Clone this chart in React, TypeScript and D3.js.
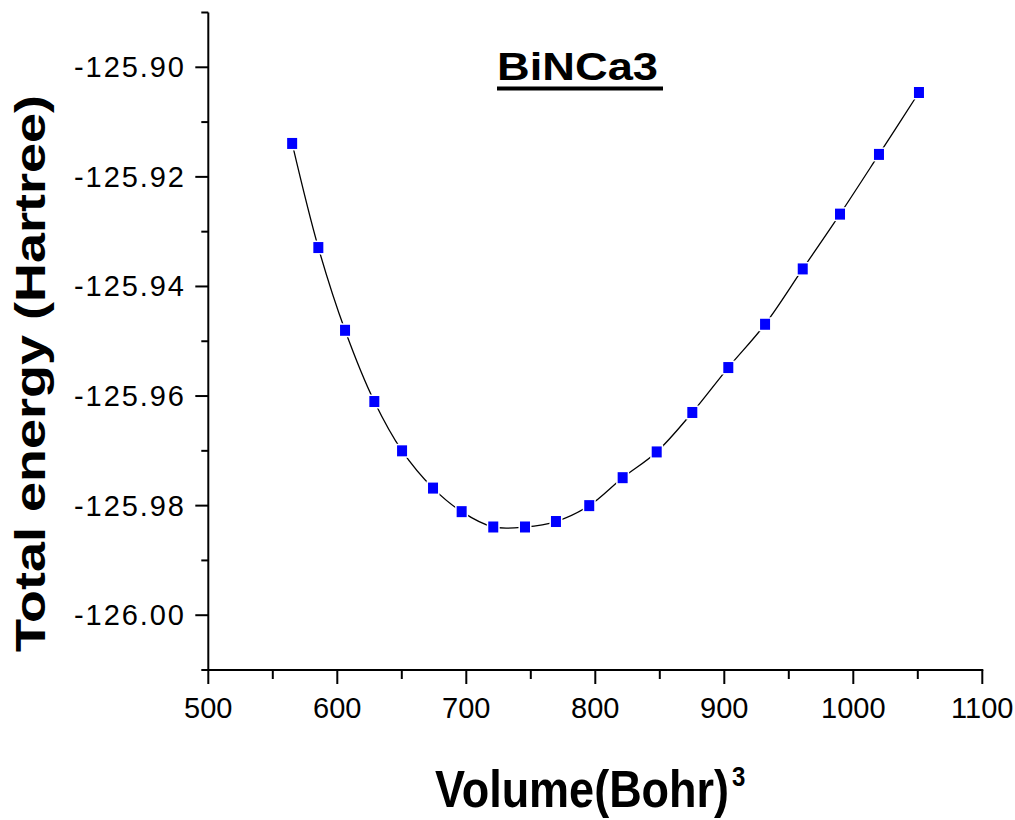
import React from 'react';
import * as d3 from 'd3';

// Volume (Bohr^3) vs total energy (Hartree)
const volumes = [565, 585.3, 606, 628.7, 650.2, 674.2, 696.4, 720.9, 745.5, 769.5,
  795.3, 821.2, 847.6, 875.2, 903.1, 931.6, 960.8, 989.7, 1019.9, 1050.9];
const energies = [-125.9139, -125.9329, -125.948, -125.961, -125.97, -125.9768, -125.9811,
  -125.9839, -125.9839, -125.9829, -125.98, -125.9749, -125.9702, -125.963, -125.9548,
  -125.9469, -125.9368, -125.9268, -125.9159, -125.9046];

const xTicks = [500, 600, 700, 800, 900, 1000, 1100];
const xMinorTicks = [550, 650, 750, 850, 950, 1050];
const yTicks = [-125.9, -125.92, -125.94, -125.96, -125.98, -126.0];
const yMinorTicks = [-125.89, -125.91, -125.93, -125.95, -125.97, -125.99, -126.01];

const title = 'BiNCa3';
const xLabel = 'Volume(Bohr)';
const xLabelSup = '3';
const yLabel = 'Total energy (Hartree)';

const FONT = '"Liberation Sans", Arial, sans-serif';

export default function App() {
  const width = 1015;
  const height = 820;

  const x = d3.scaleLinear().domain([500, 1100]).range([208.3, 982.3]);
  const y = d3.scaleLinear().domain([-126.01, -125.89]).range([670, 12.5]);

  const points: [number, number][] = volumes.map((v, i) => [v, energies[i]]);

  const line = d3.line<[number, number]>()
    .x(d => x(d[0]))
    .y(d => y(d[1]))
    .curve(d3.curveCatmullRom.alpha(0.5));

  // plain hyphen like the original, not d3's unicode minus
  const fmtY = (t: number) => t.toFixed(2);

  const x0 = x(500);
  const yBase = y(-126.01);

  return (
    <svg width={width} height={height}
      style={{position: 'absolute', left: 0, top: 0, background: '#fff'}}>
      <rect x={0} y={0} width={width} height={height} fill="#fff" />

      {/* title */}
      <text x={497} y={80} fontFamily={FONT} fontWeight="bold" fontSize={39}
        textLength={161} lengthAdjust="spacingAndGlyphs" fill="#000">{title}</text>
      <rect x={497} y={86.5} width={166} height={4} fill="#000" />

      {/* curve */}
      <path d={line(points) || ''} fill="none" stroke="#000" strokeWidth={1.3} />

      {/* markers, white outline gives the gap around each point */}
      {points.map((d, i) => (
        <rect key={i} x={x(d[0]) - 5} y={y(d[1]) - 5.5} width={10} height={11}
          fill="#0000ff" stroke="#fff" strokeWidth={3} paintOrder="stroke" />
      ))}

      {/* y axis */}
      <line x1={x0} x2={x0} y1={12.5} y2={yBase + 1} stroke="#000" strokeWidth={2} />
      {yTicks.map(t => (
        <g key={t}>
          <line x1={x0 - 13} x2={x0} y1={y(t)} y2={y(t)} stroke="#000" strokeWidth={2} />
          <text x={184} y={y(t) + 10} textAnchor="end" fontFamily={FONT} fontSize={29}
            textLength={110} lengthAdjust="spacing" fill="#000">{fmtY(t)}</text>
        </g>
      ))}
      {yMinorTicks.map(t => (
        <line key={t} x1={x0 - 7} x2={x0} y1={y(t)} y2={y(t)} stroke="#000" strokeWidth={2} />
      ))}

      {/* x axis */}
      <line x1={x0 - 1} x2={x(1100) + 1} y1={yBase} y2={yBase} stroke="#000" strokeWidth={2} />
      {xTicks.map(t => (
        <g key={t}>
          <line x1={x(t)} x2={x(t)} y1={yBase} y2={yBase + 14} stroke="#000" strokeWidth={2} />
          <text x={x(t)} y={718} textAnchor="middle" fontFamily={FONT} fontSize={29}
            fill="#000">{t}</text>
        </g>
      ))}
      {xMinorTicks.map(t => (
        <line key={t} x1={x(t)} x2={x(t)} y1={yBase} y2={yBase + 9} stroke="#000" strokeWidth={2} />
      ))}

      {/* axis titles (the original glyphs are a bit tall, hence the scale) */}
      <text transform="translate(435,807) scale(1,1.16)" fontFamily={FONT}
        fontWeight="bold" fontSize={45} fill="#000">
        {xLabel}
        <tspan dx={3} dy={-18} fontSize={24}>{xLabelSup}</tspan>
      </text>
      <text transform="translate(45,373.5) rotate(-90)" textAnchor="middle"
        fontFamily={FONT} fontWeight="bold" fontSize={42}
        textLength={557} lengthAdjust="spacingAndGlyphs" fill="#000">{yLabel}</text>
    </svg>
  );
}
